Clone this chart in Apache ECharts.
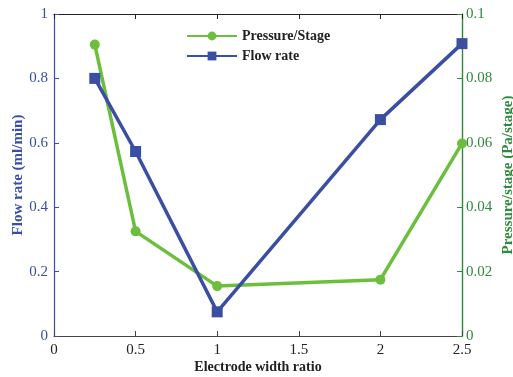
<!DOCTYPE html>
<html>
<head>
<meta charset="utf-8">
<script src="https://cdn.jsdelivr.net/npm/echarts@6/dist/echarts.min.js"></script>
<style>
  html, body { margin: 0; padding: 0; background: #fff; }
  #main { width: 513px; height: 377px; }
</style>
</head>
<body>
<div id="main"></div>
<script>
var widthRatio = [0.25, 0.5, 1, 2, 2.5];
var flowRate = [0.80, 0.573, 0.075, 0.672, 0.908];
var pressure = [0.0905, 0.0325, 0.0155, 0.0175, 0.0598];
var xTicks = [0, 0.5, 1, 1.5, 2, 2.5];

var blue = '#3a4ea2';
var green = '#6bbf3d';
var darkGreen = '#2f8a3c';
var font = 'Liberation Serif';

function pairs(ys) {
    return widthRatio.map(function (x, i) { return [x, ys[i]]; });
}

var chart = echarts.init(document.getElementById('main'));
chart.setOption({
    animation: false,
    textStyle: { fontFamily: font },
    grid: { left: 54, right: 51, top: 14, bottom: 41, outerBoundsMode: 'none', containLabel: false },
    legend: {
        orient: 'vertical',
        left: 181,
        top: 24,
        itemWidth: 50,
        itemHeight: 11,
        itemGap: 6,
        textStyle: { fontFamily: font, fontSize: 14, color: '#222', fontWeight: 'bold' },
        data: ['Pressure/Stage', 'Flow rate']
    },
    xAxis: [{
        type: 'value',
        min: 0, max: 2.5, interval: 0.5,
        name: 'Electrode width ratio',
        nameLocation: 'middle',
        nameGap: 24,
        nameMoveOverlap: false,
        nameTextStyle: { fontFamily: font, fontSize: 14, color: '#222', fontWeight: 'bold' },
        axisLine: { onZero: false, lineStyle: { color: '#444', width: 1.2 } },
        axisTick: { inside: true, length: 5, lineStyle: { color: '#444' } },
        axisLabel: {
            fontSize: 15, color: '#222', margin: 7,
            formatter: function (v) { return xTicks.indexOf(v) >= 0 ? String(v) : ''; }
        },
        splitLine: { show: false }
    }, {
        type: 'value',
        position: 'top',
        min: 0, max: 2.5, interval: 0.5,
        axisLine: { show: true, onZero: false, lineStyle: { color: '#222', width: 1.2 } },
        axisTick: { inside: true, length: 5, lineStyle: { color: '#222' } },
        axisLabel: { show: false },
        splitLine: { show: false }
    }],
    yAxis: [{
        type: 'value',
        position: 'left',
        min: 0, max: 1, interval: 0.2,
        name: 'Flow rate (ml/min)',
        nameLocation: 'middle',
        nameGap: 28,
        nameMoveOverlap: false,
        nameTextStyle: { fontFamily: font, fontSize: 15, color: blue, fontWeight: 'bold' },
        axisLine: { show: true, onZero: false, lineStyle: { color: blue, width: 1.2 } },
        axisTick: { show: true, inside: true, length: 5, lineStyle: { color: blue } },
        axisLabel: { fontSize: 15, color: blue, margin: 6 },
        splitLine: { show: false }
    }, {
        type: 'value',
        position: 'right',
        min: 0, max: 0.1, interval: 0.02,
        name: 'Pressure/stage (Pa/stage)',
        nameLocation: 'middle',
        nameGap: 39,
        nameRotate: 90,
        nameMoveOverlap: false,
        nameTextStyle: { fontFamily: font, fontSize: 15, color: darkGreen, fontWeight: 'bold' },
        axisLine: { show: true, onZero: false, lineStyle: { color: darkGreen, width: 1.4 } },
        axisTick: { show: true, inside: true, length: 5, lineStyle: { color: darkGreen } },
        axisLabel: { fontSize: 15, color: darkGreen, margin: 4 },
        splitLine: { show: false }
    }],
    series: [{
        name: 'Pressure/Stage',
        type: 'line',
        yAxisIndex: 1,
        data: pairs(pressure),
        symbol: 'circle',
        symbolSize: 10,
        lineStyle: { color: green, width: 3.5 },
        itemStyle: { color: green }
    }, {
        name: 'Flow rate',
        type: 'line',
        yAxisIndex: 0,
        data: pairs(flowRate),
        symbol: 'rect',
        symbolSize: 11,
        lineStyle: { color: blue, width: 3.5 },
        itemStyle: { color: blue }
    }]
});
</script>
</body>
</html>
